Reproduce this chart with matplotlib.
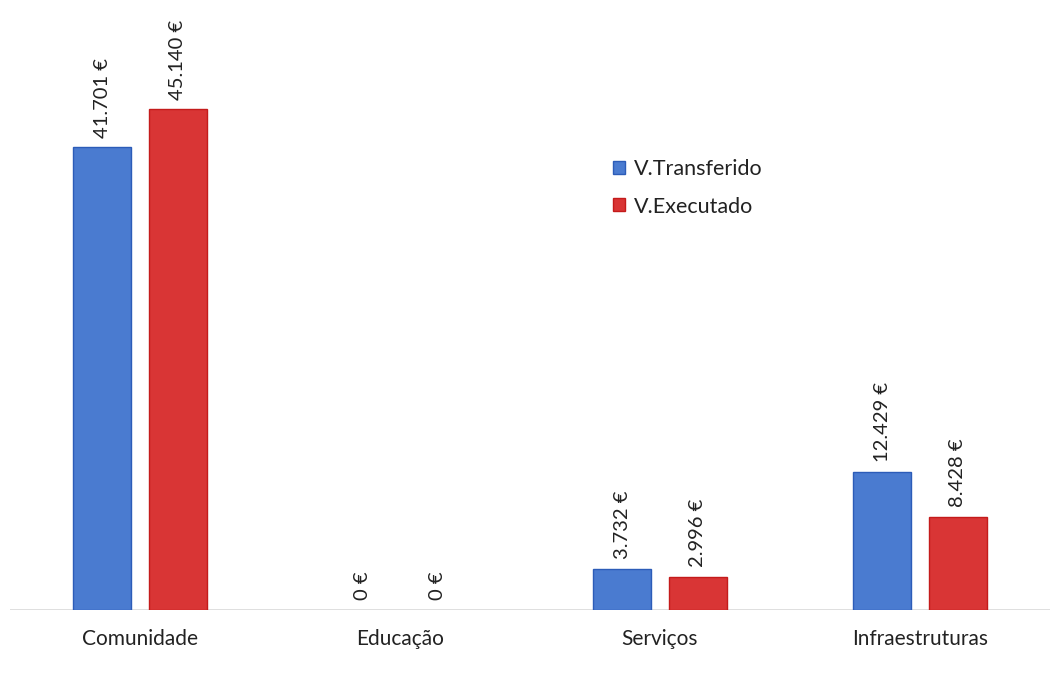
import matplotlib.pyplot as plt
import numpy as np

plt.rcParams['font.family'] = ['Lato', 'DejaVu Sans']

categorias = ['Comunidade', 'Educação', 'Serviços', 'Infraestruturas']
v_transferido = [41701, 0, 3732, 12429]
v_executado = [45140, 0, 2996, 8428]
series = ['V.Transferido', 'V.Executado']


def fmt(v):
    return '{:,}'.format(v).replace(',', '.') + ' €'


fig = plt.figure(figsize=(10.56, 6.92), dpi=100)
ax = fig.add_axes([10 / 1056, 82 / 692, 1040 / 1056, 610 / 692])

x = np.arange(len(categorias))
w = 0.223
off = 0.146

lw1 = [1 if v else 0 for v in v_transferido]
lw2 = [1 if v else 0 for v in v_executado]
b1 = ax.bar(x - off, v_transferido, w, color='#4a7bd0', edgecolor='#2c5cb8', linewidth=lw1, label=series[0])
b2 = ax.bar(x + off, v_executado, w, color='#d93535', edgecolor='#c41b1b', linewidth=lw2, label=series[1])

for bars, vals in [(b1, v_transferido), (b2, v_executado)]:
    for r, v in zip(bars, vals):
        ax.annotate(fmt(v), (r.get_x() + r.get_width() / 2, v), xytext=(0, 7),
                    textcoords='offset points', rotation=90, ha='center', va='bottom',
                    fontsize=14.5, color='#222222')

ax.set_xlim(-0.5, len(categorias) - 0.5)
ax.set_ylim(0, 55000)
ax.axhline(0, color='#d9d9d9', linewidth=1.2, zorder=0)

ax.set_xticks(x)
ax.set_xticklabels(categorias, fontsize=15, color='#222222')
ax.tick_params(axis='x', length=0, pad=14)
ax.set_yticks([])
for s in ax.spines.values():
    s.set_visible(False)

fig.legend(loc='upper left', bbox_to_anchor=(594 / 1056, 1 - 140 / 692), frameon=False,
           fontsize=15.5, handlelength=0.55, handleheight=0.55, handletextpad=0.4,
           labelspacing=0.8, labelcolor='#222222')

plt.savefig('out.png', dpi=100)
